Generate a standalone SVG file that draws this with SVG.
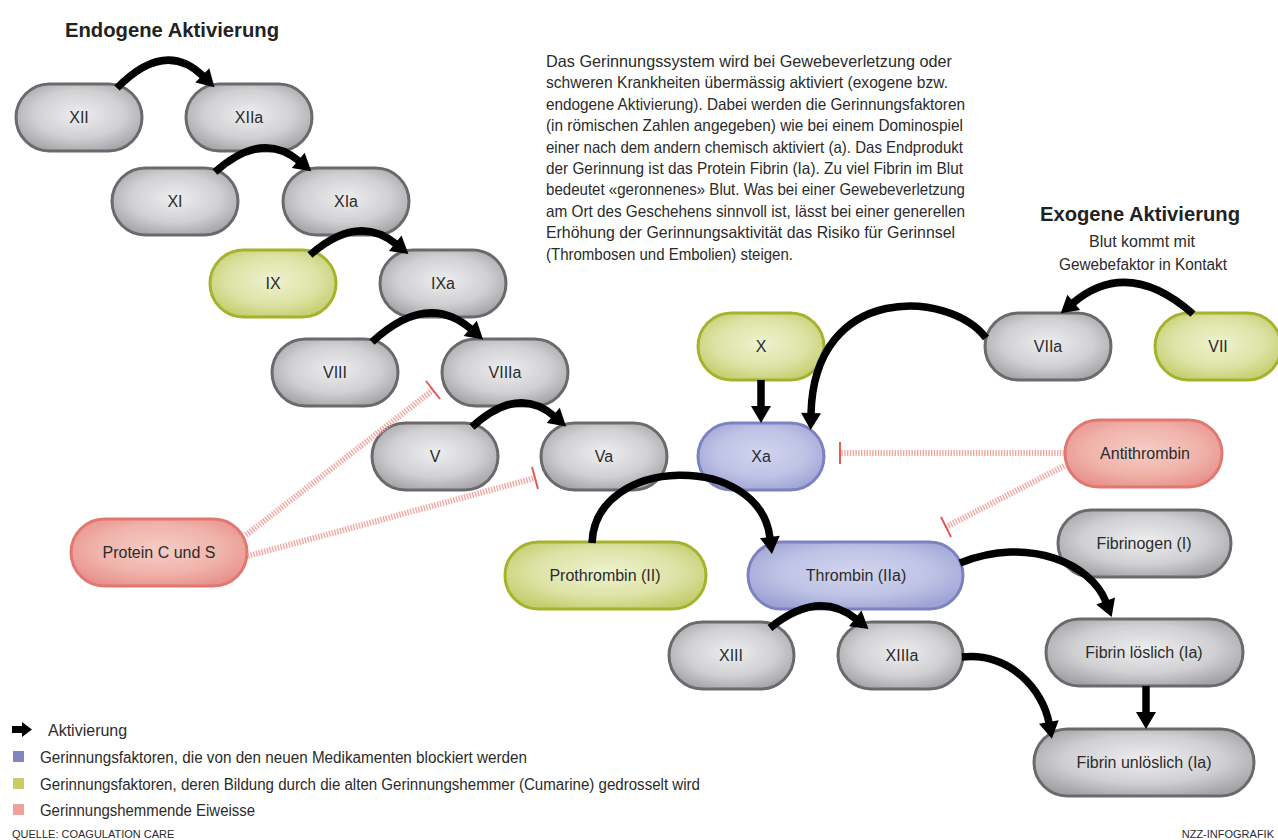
<svg xmlns="http://www.w3.org/2000/svg" width="1278" height="840" viewBox="0 0 1278 840">
<style>
  text { font-family: "Liberation Sans", Arial, sans-serif; fill: #2b2b2b; }
  .lbl { font-size: 16px; text-anchor: middle; }
  .head { font-size: 20px; font-weight: bold; fill: #222; }
  .para { font-size: 16.5px; }
  .leg { font-size: 16px; }
  .small { font-size: 11px; }
  .grey { fill: url(#gGrey); stroke: #6a6a6c; stroke-width: 3; }
  .green { fill: url(#gGreen); stroke: #a5b22b; stroke-width: 3; }
  .blue { fill: url(#gBlue); stroke: #7d81c0; stroke-width: 3; }
  .red { fill: url(#gRed); stroke: #e27772; stroke-width: 3; }
  .act { fill: none; stroke: #000; stroke-width: 7.5; marker-end: url(#ah); }
  .inh { fill: none; stroke: #f2a7a1; stroke-width: 6; stroke-dasharray: 1.4 1.4; }
  .bar { stroke: #e5585a; stroke-width: 2; }
</style>
<defs>
  <radialGradient id="gGrey" cx="0.5" cy="0.45" r="0.6">
    <stop offset="0" stop-color="#eeeef0"/>
    <stop offset="0.6" stop-color="#d0d0d3"/>
    <stop offset="1" stop-color="#a3a3a7"/>
  </radialGradient>
  <radialGradient id="gGreen" cx="0.5" cy="0.45" r="0.6">
    <stop offset="0" stop-color="#eef2cf"/>
    <stop offset="0.6" stop-color="#dde3a6"/>
    <stop offset="1" stop-color="#c4cd6c"/>
  </radialGradient>
  <radialGradient id="gBlue" cx="0.5" cy="0.45" r="0.6">
    <stop offset="0" stop-color="#d2d5ee"/>
    <stop offset="0.6" stop-color="#bec2e5"/>
    <stop offset="1" stop-color="#9ea3d5"/>
  </radialGradient>
  <radialGradient id="gRed" cx="0.5" cy="0.45" r="0.6">
    <stop offset="0" stop-color="#f5cdc6"/>
    <stop offset="0.6" stop-color="#f0b3ab"/>
    <stop offset="1" stop-color="#e8928b"/>
  </radialGradient>
  <marker id="ah" markerUnits="userSpaceOnUse" markerWidth="18" markerHeight="22" refX="1" refY="10" orient="auto" overflow="visible">
    <path d="M0,0 L17,10 L0,20 z" fill="#000"/>
  </marker>
</defs>
<rect width="1278" height="840" fill="#fff"/>

<text class="head" x="65" y="37" textLength="214" lengthAdjust="spacingAndGlyphs">Endogene Aktivierung</text>
<text class="head" x="1040" y="221" textLength="200" lengthAdjust="spacingAndGlyphs">Exogene Aktivierung</text>
<text class="lbl" x="1142" y="247">Blut kommt mit</text>
<text class="lbl" x="1143" y="270" textLength="168" lengthAdjust="spacingAndGlyphs">Gewebefaktor in Kontakt</text>

<g id="description" class="para">
  <text x="546" y="67" textLength="406" lengthAdjust="spacingAndGlyphs">Das Gerinnungssystem wird bei Gewebeverletzung oder</text>
  <text x="546" y="88.4" textLength="402" lengthAdjust="spacingAndGlyphs">schweren Krankheiten übermässig aktiviert (exogene bzw.</text>
  <text x="546" y="109.8" textLength="419" lengthAdjust="spacingAndGlyphs">endogene Aktivierung). Dabei werden die Gerinnungsfaktoren</text>
  <text x="546" y="131.2" textLength="417" lengthAdjust="spacingAndGlyphs">(in römischen Zahlen angegeben) wie bei einem Dominospiel</text>
  <text x="546" y="152.6" textLength="417" lengthAdjust="spacingAndGlyphs">einer nach dem andern chemisch aktiviert (a). Das Endprodukt</text>
  <text x="546" y="174" textLength="417" lengthAdjust="spacingAndGlyphs">der Gerinnung ist das Protein Fibrin (Ia). Zu viel Fibrin im Blut</text>
  <text x="546" y="195.4" textLength="419" lengthAdjust="spacingAndGlyphs">bedeutet «geronnenes» Blut. Was bei einer Gewebeverletzung</text>
  <text x="546" y="216.8" textLength="419" lengthAdjust="spacingAndGlyphs">am Ort des Geschehens sinnvoll ist, lässt bei einer generellen</text>
  <text x="546" y="238.2" textLength="409" lengthAdjust="spacingAndGlyphs">Erhöhung der Gerinnungsaktivität das Risiko für Gerinnsel</text>
  <text x="546" y="259.6" textLength="247" lengthAdjust="spacingAndGlyphs">(Thrombosen und Embolien) steigen.</text>
</g>

<g id="n-XII"><rect class="grey" x="16" y="84" width="126" height="67" rx="33.5"/><text class="lbl" x="79" y="123">XII</text></g>
<g id="n-XIIa"><rect class="grey" x="186" y="84" width="126" height="67" rx="33.5"/><text class="lbl" x="249" y="123">XIIa</text></g>
<g id="n-XI"><rect class="grey" x="112" y="168" width="126" height="67" rx="33.5"/><text class="lbl" x="175" y="207">XI</text></g>
<g id="n-XIa"><rect class="grey" x="283" y="168" width="126" height="67" rx="33.5"/><text class="lbl" x="346" y="207">XIa</text></g>
<g id="n-IX"><rect class="green" x="210" y="250" width="126" height="67" rx="33.5"/><text class="lbl" x="273" y="289">IX</text></g>
<g id="n-IXa"><rect class="grey" x="380" y="250" width="126" height="67" rx="33.5"/><text class="lbl" x="443" y="289">IXa</text></g>
<g id="n-VIII"><rect class="grey" x="272" y="339" width="126" height="67" rx="33.5"/><text class="lbl" x="335" y="378">VIII</text></g>
<g id="n-VIIIa"><rect class="grey" x="442" y="339" width="126" height="67" rx="33.5"/><text class="lbl" x="505" y="378">VIIIa</text></g>
<g id="n-V"><rect class="grey" x="372" y="423" width="126" height="67" rx="33.5"/><text class="lbl" x="435" y="462">V</text></g>
<g id="n-Va"><rect class="grey" x="541" y="423" width="126" height="67" rx="33.5"/><text class="lbl" x="604" y="462">Va</text></g>
<g id="n-X"><rect class="green" x="698" y="313" width="126" height="67" rx="33.5"/><text class="lbl" x="761" y="352">X</text></g>
<g id="n-Xa"><rect class="blue" x="698" y="423" width="126" height="67" rx="33.5"/><text class="lbl" x="761" y="462">Xa</text></g>
<g id="n-VIIa"><rect class="grey" x="985" y="313" width="126" height="67" rx="33.5"/><text class="lbl" x="1048" y="352">VIIa</text></g>
<g id="n-VII"><rect class="green" x="1155" y="313" width="126" height="67" rx="33.5"/><text class="lbl" x="1218" y="352">VII</text></g>
<g id="n-Antithrombin"><rect class="red" x="1065" y="420" width="157" height="67" rx="33.5"/><text class="lbl" x="1145" y="459">Antithrombin</text></g>
<g id="n-ProteinCS"><rect class="red" x="71" y="519" width="176" height="67" rx="33.5"/><text class="lbl" x="159" y="558">Protein C und S</text></g>
<g id="n-Prothrombin"><rect class="green" x="505" y="542" width="201" height="67" rx="33.5"/><text class="lbl" x="605" y="581">Prothrombin (II)</text></g>
<g id="n-Thrombin"><rect class="blue" x="748" y="542" width="215" height="67" rx="33.5"/><text class="lbl" x="856" y="581">Thrombin (IIa)</text></g>
<g id="n-XIII"><rect class="grey" x="669" y="622" width="125" height="67" rx="33.5"/><text class="lbl" x="731" y="661">XIII</text></g>
<g id="n-XIIIa"><rect class="grey" x="838" y="622" width="125" height="67" rx="33.5"/><text class="lbl" x="902" y="661">XIIIa</text></g>
<g id="n-Fibrinogen"><rect class="grey" x="1058" y="510" width="173" height="67" rx="33.5"/><text class="lbl" x="1144" y="549">Fibrinogen (I)</text></g>
<g id="n-FibrinLoeslich"><rect class="grey" x="1046" y="619" width="197" height="67" rx="33.5"/><text class="lbl" x="1144" y="658">Fibrin löslich (Ia)</text></g>
<g id="n-FibrinUnloeslich"><rect class="grey" x="1034" y="729" width="220" height="67" rx="33.5"/><text class="lbl" x="1144" y="768">Fibrin unlöslich (Ia)</text></g>

<g id="connectors">
  <path class="act" d="M117,88 Q165,39 203,76"/>
  <path class="act" d="M215,172 Q262,130 299,161"/>
  <path class="act" d="M310,255 Q358,213 396,244"/>
  <path class="act" d="M372,342 Q427,291 471,329"/>
  <path class="act" d="M472,427 Q518,385 554,416"/>
  <path class="act" d="M592,543 C595,455 760,452 770,538"/>
  <path class="act" d="M960,563 C1030,535 1092,565 1106,602"/>
  <path class="act" d="M770,628 Q818,589 856,619"/>
  <path class="act" d="M962,657 C1010,652 1043,690 1049,723"/>
  <path class="act" d="M1146,686 L1146,713"/>
  <path class="act" d="M761,380 L761,407"/>
  <path class="act" d="M986,338 C950,290 814,282 811,414"/>
  <path class="act" d="M1193,314 Q1128,257 1073,303"/>

  <path class="inh" d="M246,535 L433,390"/>
  <line class="bar" x1="426" y1="381" x2="440" y2="399"/>
  <path class="inh" d="M248,556 L535,478"/>
  <line class="bar" x1="532" y1="467" x2="538" y2="489"/>
  <path class="inh" d="M1064,453 L840,453"/>
  <line class="bar" x1="840" y1="442" x2="840" y2="464"/>
  <path class="inh" d="M1064,466 L946,527"/>
  <line class="bar" x1="941" y1="517" x2="951" y2="537"/>
</g>

<g id="legend">
  <path d="M12,726 L22,726 L22,722 L32,729.5 L22,737 L22,733 L12,733 z" fill="#000"/>
  <text class="leg" x="48" y="736">Aktivierung</text>
  <rect x="13" y="751" width="11" height="11" fill="#8384c2"/>
  <text class="leg" x="40" y="763" textLength="487" lengthAdjust="spacingAndGlyphs">Gerinnungsfaktoren, die von den neuen Medikamenten blockiert werden</text>
  <rect x="13" y="778" width="11" height="11" fill="#c9cd68"/>
  <text class="leg" x="40" y="790" textLength="660" lengthAdjust="spacingAndGlyphs">Gerinnungsfaktoren, deren Bildung durch die alten Gerinnungshemmer (Cumarine) gedrosselt wird</text>
  <rect x="13" y="804" width="11" height="11" fill="#eda39c"/>
  <text class="leg" x="40" y="816" textLength="215" lengthAdjust="spacingAndGlyphs">Gerinnungshemmende Eiweisse</text>
  <text class="small" x="12" y="838">QUELLE: COAGULATION CARE</text>
  <text class="small" x="1274" y="838" text-anchor="end">NZZ-INFOGRAFIK</text>
</g>
</svg>
